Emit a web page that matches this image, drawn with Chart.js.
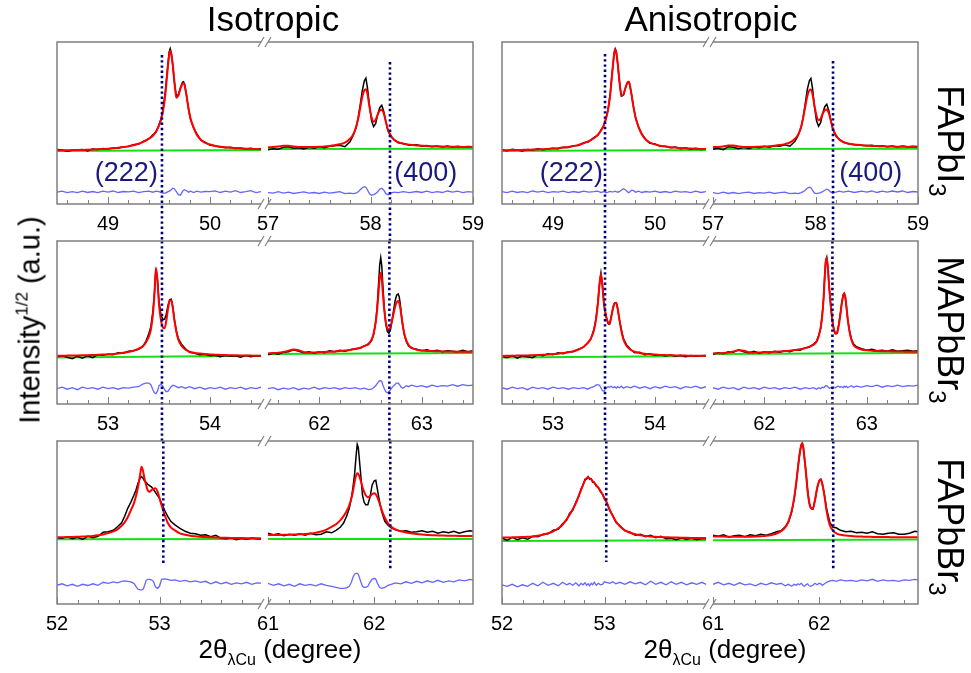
<!DOCTYPE html>
<html><head><meta charset="utf-8">
<script src="https://cdn.jsdelivr.net/npm/chart.js@4.4.1/dist/chart.umd.min.js"></script>
<style>
body{margin:0;background:#fff;width:971px;height:673px;position:relative;overflow:hidden;font-family:"Liberation Sans",Arial,sans-serif;}
canvas{position:absolute;}
.t{position:absolute;white-space:nowrap;color:#000;line-height:1;z-index:5;}
.pk{position:absolute;white-space:nowrap;color:#1a1a7e;line-height:1;font-size:27px;z-index:5;transform:translate(-50%,-50%);}
</style></head><body>
<div class="t" style="left:273px;top:1px;font-size:35px;transform:translateX(-50%)">Isotropic</div>
<div class="t" style="left:711px;top:1px;font-size:35px;transform:translateX(-50%)">Anisotropic</div>
<div class="t" style="left:29px;top:320px;font-size:29px;transform:translate(-50%,-50%) rotate(-90deg)">Intensity<span style="font-size:17px;vertical-align:12px">1/2</span> (a.u.)</div>
<div class="t" style="left:280px;top:636px;font-size:26px;transform:translateX(-50%)">2θ<span style="font-size:16px;vertical-align:-7px">λCu</span> (degree)</div>
<div class="t" style="left:725px;top:636px;font-size:26px;transform:translateX(-50%)">2θ<span style="font-size:16px;vertical-align:-7px">λCu</span> (degree)</div>
<div class="t" style="left:946px;top:141px;font-size:36px;transform:translate(-50%,-50%) rotate(90deg)">FAPbI<span style="font-size:24px;vertical-align:-9px">3</span></div>
<div class="t" style="left:946px;top:330px;font-size:36px;transform:translate(-50%,-50%) rotate(90deg)">MAPbBr<span style="font-size:24px;vertical-align:-9px">3</span></div>
<div class="t" style="left:946px;top:527px;font-size:36px;transform:translate(-50%,-50%) rotate(90deg)">FAPbBr<span style="font-size:24px;vertical-align:-9px">3</span></div>
<script>
// ---------- x grids (2θ, degree) ----------
const xTopA = [48.50,48.55,48.60,48.65,48.70,48.75,48.80,48.85,48.90,48.95,49.00,49.05,49.10,49.15,49.20,49.25,49.30,49.35,49.40,
 49.44,49.47,49.50,49.52,49.54,49.56,49.58,49.60,49.61,49.62,49.635,49.65,49.67,49.69,49.71,49.73,49.74,49.75,49.77,49.79,49.81,49.84,49.87,49.91,49.95,50.00,
 50.05,50.10,50.15,50.20,50.25,50.30,50.35,50.40,50.45,50.50];
const xTopB = [57.00,57.05,57.10,57.15,57.20,57.25,57.30,57.35,57.40,57.45,57.50,57.55,57.60,57.65,57.70,57.75,
 57.80,57.83,57.86,57.88,57.90,57.92,57.94,57.955,57.97,57.99,58.01,58.03,58.05,58.07,58.09,58.11,58.13,58.15,58.17,58.20,58.23,58.27,58.32,58.38,
 58.45,58.50,58.55,58.60,58.65,58.70,58.75,58.80,58.85,58.90,58.95,59.00];
const xMidA = [52.50,52.55,52.60,52.65,52.70,52.75,52.80,52.85,52.90,52.95,53.00,53.05,53.10,53.15,53.20,53.25,53.30,
 53.34,53.37,53.40,53.42,53.44,53.455,53.47,53.485,53.50,53.52,53.54,53.555,53.57,53.59,53.605,53.62,53.635,53.65,53.67,53.69,53.72,53.76,53.80,53.85,53.90,53.95,54.00,
 54.05,54.10,54.15,54.20,54.25,54.30,54.35,54.40,54.45,54.50];
const xMidB = [61.50,61.55,61.60,61.65,61.70,61.75,61.80,61.85,61.90,61.95,62.00,62.05,62.10,62.15,62.20,62.25,62.30,62.35,62.40,62.44,62.48,
 62.51,62.53,62.55,62.565,62.58,62.59,62.60,62.61,62.62,62.635,62.65,62.665,62.68,62.695,62.71,62.725,62.74,62.755,62.77,62.78,62.79,62.80,62.815,62.83,62.85,62.87,62.90,
 62.95,63.00,63.05,63.10,63.15,63.20,63.25,63.30,63.35,63.40,63.45,63.50];
const xBotA = [52.00,52.05,52.10,52.15,52.20,52.25,52.30,52.35,52.40,52.45,52.50,
 52.55,52.59,52.63,52.66,52.69,52.72,52.75,52.77,52.79,52.81,52.825,52.84,52.855,52.87,52.885,52.90,52.92,52.94,52.96,52.98,53.00,53.02,53.05,53.08,53.11,53.15,53.20,53.25,53.30,53.35,53.40,53.45,
 53.50,53.55,53.60,53.65,53.70,53.75,53.80,53.85,53.90,53.95,54.00];
const xBotB = [61.00,61.05,61.10,61.15,61.20,61.25,61.30,61.35,61.40,61.45,61.50,61.55,61.60,
 61.64,61.68,61.71,61.74,61.765,61.785,61.80,61.815,61.83,61.84,61.85,61.86,61.875,61.89,61.905,61.92,61.94,61.96,61.98,62.00,62.015,62.03,62.05,62.07,62.10,62.13,62.16,62.20,
 62.25,62.30,62.35,62.40,62.45,62.50,62.55,62.60,62.65,62.70,62.75,62.80,62.85,62.90,62.93];

// ---------- Isotropic FAPbI3 ----------
const isoFAPbI3_obsA = [0.012,0.008,-0.005,0.004,0.01,0.013,-0.002,0.018,0.012,0.022,0.017,0.028,0.025,0.04,0.043,0.06,0.066,0.095,0.118,
 0.16,0.185,0.26,0.32,0.42,0.57,0.79,0.99,1.02,0.98,0.85,0.69,0.545,0.56,0.63,0.685,0.69,0.67,0.55,0.41,0.31,0.225,0.17,0.105,0.085,0.055,
 0.05,0.036,0.03,0.035,0.022,0.027,0.018,0.024,0.014,0.019];
const isoFAPbI3_fitA = [0.003,0.004,0.005,0.006,0.007,0.008,0.01,0.012,0.014,0.017,0.02,0.024,0.03,0.036,0.045,0.055,0.07,0.09,0.12,
 0.15,0.19,0.25,0.31,0.40,0.54,0.76,0.96,1.0,0.97,0.86,0.70,0.53,0.55,0.62,0.67,0.675,0.66,0.55,0.42,0.32,0.23,0.16,0.11,0.08,0.062,
 0.048,0.04,0.034,0.03,0.026,0.023,0.02,0.018,0.016,0.015];
const isoFAPbI3_resA = [-0.415,-0.405,-0.42,-0.41,-0.42,-0.405,-0.418,-0.408,-0.42,-0.405,-0.415,-0.403,-0.418,-0.408,-0.412,-0.404,-0.42,-0.41,-0.405,
 -0.415,-0.405,-0.41,-0.42,-0.425,-0.425,-0.415,-0.405,-0.40,-0.39,-0.375,-0.38,-0.41,-0.44,-0.445,-0.41,-0.395,-0.39,-0.40,-0.415,-0.405,-0.418,-0.405,-0.415,-0.408,-0.41,
 -0.402,-0.418,-0.405,-0.415,-0.40,-0.418,-0.41,-0.40,-0.42,-0.41];
const isoFAPbI3_obsB = [0.01,0.02,0.015,0.035,0.04,0.025,0.03,0.018,0.035,0.025,0.04,0.03,0.045,0.05,0.055,0.04,
 0.09,0.15,0.23,0.33,0.46,0.6,0.7,0.725,0.63,0.45,0.3,0.24,0.27,0.36,0.43,0.455,0.39,0.29,0.2,0.14,0.11,0.08,0.072,0.055,
 0.06,0.045,0.052,0.04,0.048,0.038,0.047,0.035,0.045,0.036,0.042,0.04];
const isoFAPbI3_fitB = [0.035,0.037,0.042,0.05,0.05,0.042,0.037,0.036,0.037,0.038,0.04,0.043,0.048,0.055,0.064,0.08,
 0.12,0.16,0.24,0.32,0.43,0.54,0.605,0.615,0.57,0.44,0.335,0.29,0.31,0.36,0.40,0.41,0.37,0.29,0.21,0.15,0.11,0.085,0.07,0.06,
 0.053,0.05,0.047,0.045,0.043,0.041,0.04,0.039,0.038,0.037,0.037,0.036];
const isoFAPbI3_resB = [-0.42,-0.425,-0.41,-0.425,-0.415,-0.428,-0.42,-0.412,-0.425,-0.418,-0.428,-0.415,-0.425,-0.418,-0.41,-0.43,
 -0.425,-0.43,-0.425,-0.41,-0.39,-0.37,-0.36,-0.365,-0.39,-0.43,-0.445,-0.44,-0.43,-0.41,-0.385,-0.375,-0.395,-0.43,-0.44,-0.425,-0.415,-0.42,-0.41,-0.42,
 -0.408,-0.418,-0.405,-0.42,-0.41,-0.418,-0.403,-0.415,-0.405,-0.42,-0.41,-0.415];
const isoFAPbI3_baseA = [-0.003, 0.007];
const isoFAPbI3_baseB = [0.017, 0.02];

// ---------- Anisotropic FAPbI3 ----------
const aniFAPbI3_obsA = [0.01,0.0,0.015,0.007,-0.003,0.013,0.008,0.02,0.01,0.016,0.025,0.02,0.035,0.032,0.05,0.052,0.08,0.09,0.13,
 0.155,0.205,0.255,0.33,0.41,0.56,0.78,0.98,1.017,0.99,0.86,0.7,0.545,0.555,0.625,0.685,0.69,0.67,0.56,0.435,0.33,0.23,0.17,0.11,0.075,0.068,
 0.045,0.045,0.03,0.036,0.02,0.03,0.015,0.025,0.012,0.018];
const aniFAPbI3_fitA = [0.004,0.005,0.006,0.007,0.008,0.009,0.011,0.013,0.015,0.018,0.021,0.025,0.031,0.038,0.047,0.058,0.074,0.095,0.125,
 0.16,0.2,0.26,0.32,0.41,0.55,0.77,0.97,1.015,0.985,0.87,0.71,0.55,0.56,0.63,0.68,0.69,0.675,0.56,0.43,0.33,0.235,0.165,0.112,0.082,0.063,
 0.05,0.041,0.035,0.031,0.027,0.024,0.021,0.019,0.017,0.016];
const aniFAPbI3_resA = [-0.41,-0.42,-0.405,-0.418,-0.41,-0.42,-0.403,-0.415,-0.405,-0.42,-0.41,-0.415,-0.405,-0.42,-0.408,-0.418,-0.405,-0.415,-0.41,
 -0.405,-0.418,-0.41,-0.42,-0.415,-0.408,-0.412,-0.41,-0.405,-0.41,-0.415,-0.41,-0.395,-0.38,-0.39,-0.41,-0.42,-0.415,-0.395,-0.4,-0.415,-0.405,-0.418,-0.408,-0.415,-0.405,
 -0.418,-0.408,-0.42,-0.405,-0.415,-0.41,-0.42,-0.405,-0.418,-0.41];
const aniFAPbI3_obsB = [0.015,0.025,0.01,0.04,0.035,0.02,0.035,0.02,0.04,0.03,0.045,0.035,0.05,0.045,0.06,0.045,
 0.095,0.15,0.235,0.335,0.47,0.61,0.7,0.723,0.63,0.44,0.3,0.245,0.28,0.37,0.44,0.465,0.4,0.3,0.21,0.145,0.115,0.085,0.07,0.06,
 0.055,0.05,0.055,0.045,0.05,0.04,0.048,0.038,0.047,0.04,0.045,0.042];
const aniFAPbI3_fitB = [0.035,0.038,0.043,0.052,0.052,0.043,0.038,0.037,0.038,0.039,0.041,0.044,0.049,0.056,0.066,0.082,
 0.12,0.16,0.24,0.33,0.44,0.545,0.605,0.613,0.57,0.45,0.35,0.305,0.32,0.37,0.405,0.413,0.375,0.3,0.22,0.155,0.115,0.088,0.072,0.062,
 0.055,0.051,0.048,0.046,0.044,0.042,0.041,0.04,0.039,0.038,0.038,0.037];
const aniFAPbI3_resB = [-0.42,-0.43,-0.415,-0.428,-0.418,-0.43,-0.42,-0.415,-0.428,-0.42,-0.425,-0.415,-0.428,-0.42,-0.415,-0.43,
 -0.425,-0.43,-0.42,-0.41,-0.395,-0.375,-0.365,-0.37,-0.395,-0.425,-0.43,-0.425,-0.42,-0.41,-0.395,-0.385,-0.395,-0.415,-0.42,-0.415,-0.405,-0.415,-0.405,-0.418,
 -0.405,-0.415,-0.403,-0.418,-0.405,-0.415,-0.403,-0.413,-0.403,-0.418,-0.408,-0.413];
const aniFAPbI3_baseA = [-0.003, 0.007];
const aniFAPbI3_baseB = [0.017, 0.02];

// ---------- Isotropic MAPbBr3 ----------
const isoMAPbBr3_obsA = [0.0,0.01,-0.005,-0.02,0.005,-0.015,0.01,-0.01,0.02,0.015,0.025,0.02,0.04,0.035,0.055,0.06,0.075,
 0.1,0.15,0.23,0.3,0.45,0.63,0.88,0.77,0.55,0.41,0.37,0.375,0.42,0.52,0.57,0.575,0.5,0.38,0.26,0.18,0.125,0.08,0.045,0.035,0.02,0.025,0.01,
 0.015,0.0,0.012,0.005,0.01,-0.005,0.012,0.0,0.01,0.008];
const isoMAPbBr3_fitA = [0.01,0.01,0.011,0.012,0.013,0.014,0.015,0.017,0.019,0.021,0.024,0.028,0.033,0.04,0.048,0.06,0.08,
 0.105,0.14,0.2,0.27,0.42,0.62,0.89,0.76,0.52,0.36,0.29,0.285,0.35,0.49,0.56,0.565,0.49,0.37,0.25,0.17,0.11,0.07,0.05,0.038,0.031,0.026,0.023,
 0.02,0.018,0.016,0.015,0.014,0.013,0.012,0.011,0.01,0.01];
const isoMAPbBr3_resA = [-0.32,-0.305,-0.325,-0.31,-0.33,-0.305,-0.32,-0.31,-0.325,-0.305,-0.32,-0.31,-0.325,-0.31,-0.315,-0.305,-0.30,
 -0.275,-0.265,-0.265,-0.28,-0.33,-0.36,-0.37,-0.345,-0.29,-0.275,-0.3,-0.33,-0.35,-0.345,-0.32,-0.3,-0.285,-0.29,-0.3,-0.31,-0.3,-0.315,-0.3,-0.32,-0.305,-0.325,-0.31,
 -0.32,-0.305,-0.325,-0.31,-0.32,-0.305,-0.325,-0.31,-0.32,-0.305];
const isoMAPbBr3_obsB = [0.02,0.035,0.025,0.045,0.05,0.07,0.055,0.04,0.05,0.035,0.05,0.04,0.06,0.05,0.065,0.055,0.07,0.08,0.085,0.11,0.12,
 0.16,0.22,0.34,0.5,0.75,0.92,0.99,0.91,0.72,0.48,0.32,0.25,0.235,0.27,0.36,0.46,0.56,0.615,0.627,0.6,0.53,0.43,0.31,0.22,0.15,0.11,0.085,
 0.075,0.06,0.07,0.055,0.065,0.05,0.06,0.055,0.05,0.065,0.05,0.06];
const isoMAPbBr3_fitB = [0.033,0.036,0.04,0.048,0.06,0.072,0.065,0.045,0.04,0.042,0.045,0.048,0.05,0.053,0.057,0.062,0.068,0.078,0.09,0.105,0.13,
 0.17,0.23,0.34,0.47,0.66,0.79,0.84,0.78,0.64,0.46,0.34,0.28,0.27,0.3,0.36,0.43,0.5,0.545,0.557,0.54,0.49,0.42,0.31,0.23,0.16,0.12,0.09,
 0.07,0.062,0.058,0.056,0.054,0.053,0.052,0.051,0.05,0.05,0.05,0.05];
const isoMAPbBr3_resB = [-0.32,-0.31,-0.33,-0.315,-0.325,-0.31,-0.33,-0.315,-0.325,-0.305,-0.325,-0.31,-0.32,-0.31,-0.325,-0.31,-0.32,-0.31,-0.325,-0.315,-0.33,
 -0.325,-0.31,-0.29,-0.27,-0.25,-0.24,-0.24,-0.25,-0.28,-0.32,-0.35,-0.36,-0.35,-0.33,-0.31,-0.29,-0.275,-0.265,-0.265,-0.275,-0.29,-0.305,-0.315,-0.305,-0.29,-0.3,-0.285,
 -0.3,-0.29,-0.305,-0.285,-0.3,-0.29,-0.295,-0.28,-0.295,-0.28,-0.29,-0.285];
const isoMAPbBr3_baseA = [-0.007, 0.01];
const isoMAPbBr3_baseB = [0.027, 0.037];

// ---------- Anisotropic MAPbBr3 ----------
const aniMAPbBr3_obsA = [0.005,-0.01,0.012,-0.015,0.008,0.0,-0.01,0.02,0.01,0.03,0.02,0.04,0.03,0.05,0.05,0.075,0.095,
 0.14,0.175,0.27,0.37,0.54,0.72,0.835,0.71,0.52,0.4,0.33,0.325,0.4,0.5,0.54,0.54,0.47,0.375,0.27,0.18,0.12,0.075,0.04,0.045,0.02,0.03,0.015,
 0.02,0.008,0.018,0.005,0.015,0.0,0.012,0.005,0.01,0.012];
const aniMAPbBr3_fitA = [0.008,0.009,0.01,0.011,0.012,0.013,0.015,0.017,0.019,0.022,0.026,0.03,0.036,0.045,0.056,0.072,0.1,
 0.135,0.18,0.26,0.36,0.53,0.71,0.83,0.7,0.53,0.41,0.34,0.33,0.39,0.49,0.535,0.54,0.48,0.38,0.26,0.175,0.11,0.07,0.05,0.038,0.03,0.025,0.021,
 0.018,0.016,0.014,0.013,0.012,0.011,0.01,0.01,0.009,0.009];
const aniMAPbBr3_resA = [-0.31,-0.325,-0.305,-0.32,-0.31,-0.33,-0.305,-0.32,-0.31,-0.325,-0.305,-0.32,-0.31,-0.325,-0.31,-0.32,-0.31,
 -0.325,-0.31,-0.3,-0.285,-0.28,-0.285,-0.31,-0.34,-0.345,-0.315,-0.3,-0.305,-0.295,-0.31,-0.3,-0.315,-0.3,-0.31,-0.295,-0.315,-0.3,-0.31,-0.295,-0.315,-0.3,-0.32,-0.3,
 -0.315,-0.295,-0.31,-0.3,-0.32,-0.3,-0.31,-0.295,-0.315,-0.3];
const aniMAPbBr3_obsB = [0.025,0.04,0.03,0.05,0.045,0.07,0.05,0.04,0.055,0.035,0.05,0.04,0.055,0.045,0.06,0.05,0.07,0.065,0.09,0.095,0.125,
 0.155,0.21,0.28,0.41,0.6,0.81,0.96,0.993,0.9,0.67,0.49,0.35,0.27,0.23,0.24,0.31,0.41,0.53,0.62,0.635,0.6,0.51,0.37,0.27,0.18,0.13,0.1,
 0.08,0.065,0.075,0.06,0.065,0.055,0.07,0.055,0.06,0.065,0.055,0.06];
const aniMAPbBr3_fitB = [0.033,0.035,0.038,0.043,0.052,0.065,0.06,0.045,0.04,0.042,0.044,0.046,0.049,0.052,0.056,0.06,0.066,0.075,0.086,0.1,0.12,
 0.15,0.2,0.29,0.4,0.6,0.8,0.95,0.99,0.9,0.68,0.5,0.36,0.27,0.23,0.235,0.3,0.4,0.52,0.61,0.633,0.6,0.52,0.37,0.26,0.17,0.12,0.09,
 0.072,0.064,0.06,0.057,0.055,0.054,0.053,0.052,0.051,0.05,0.05,0.05];
const aniMAPbBr3_resB = [-0.31,-0.325,-0.305,-0.32,-0.31,-0.33,-0.305,-0.32,-0.31,-0.325,-0.305,-0.32,-0.31,-0.325,-0.31,-0.32,-0.305,-0.325,-0.31,-0.32,-0.31,
 -0.325,-0.31,-0.32,-0.305,-0.31,-0.3,-0.29,-0.29,-0.3,-0.315,-0.31,-0.32,-0.305,-0.31,-0.3,-0.295,-0.305,-0.3,-0.31,-0.295,-0.305,-0.295,-0.31,-0.3,-0.29,-0.305,-0.295,
 -0.305,-0.29,-0.3,-0.285,-0.305,-0.29,-0.3,-0.285,-0.3,-0.29,-0.295,-0.285];
const aniMAPbBr3_baseA = [-0.007, 0.007];
const aniMAPbBr3_baseB = [0.027, 0.037];

// ---------- Isotropic FAPbBr3 ----------
const isoFAPbBr3_obsA = [0.015,0.01,0.025,0.005,0.02,0.0,0.03,0.015,0.03,0.07,0.075,
 0.09,0.125,0.165,0.23,0.31,0.37,0.44,0.49,0.56,0.61,0.627,0.61,0.58,0.57,0.55,0.54,0.525,0.5,0.47,0.44,0.41,0.36,0.29,0.23,0.18,0.145,0.11,0.08,0.06,0.055,0.04,0.045,
 0.025,0.04,0.01,0.005,0.015,-0.005,0.01,0.0,0.012,0.005,0.003];
const isoFAPbBr3_fitA = [0.02,0.021,0.022,0.023,0.025,0.027,0.03,0.034,0.04,0.048,0.062,
 0.08,0.1,0.135,0.17,0.22,0.29,0.36,0.43,0.52,0.64,0.725,0.68,0.6,0.54,0.49,0.475,0.49,0.505,0.51,0.48,0.41,0.34,0.245,0.165,0.12,0.09,0.06,0.045,0.035,0.03,0.025,0.022,
 0.02,0.018,0.016,0.015,0.014,0.013,0.012,0.011,0.01,0.01,0.01];
const isoFAPbBr3_resA = [-0.46,-0.445,-0.465,-0.45,-0.47,-0.45,-0.462,-0.445,-0.46,-0.43,-0.44,
 -0.425,-0.435,-0.42,-0.415,-0.42,-0.425,-0.44,-0.47,-0.5,-0.505,-0.505,-0.5,-0.46,-0.41,-0.4,-0.4,-0.405,-0.42,-0.475,-0.49,-0.47,-0.4,-0.395,-0.4,-0.41,-0.405,-0.42,-0.41,-0.425,-0.415,-0.43,-0.42,
 -0.445,-0.425,-0.445,-0.43,-0.45,-0.435,-0.445,-0.43,-0.45,-0.435,-0.44];
const isoFAPbBr3_obsB = [0.06,0.045,0.055,0.035,0.05,0.04,0.055,0.04,0.06,0.045,0.05,0.075,0.065,
 0.09,0.12,0.16,0.23,0.31,0.41,0.52,0.65,0.84,0.95,0.92,0.8,0.62,0.44,0.37,0.345,0.345,0.42,0.54,0.585,0.59,0.5,0.38,0.28,0.18,0.14,0.115,0.095,
 0.08,0.085,0.07,0.075,0.085,0.07,0.08,0.06,0.075,0.065,0.08,0.06,0.075,0.085,0.08];
const isoFAPbBr3_fitB = [0.043,0.043,0.044,0.045,0.046,0.048,0.05,0.053,0.058,0.066,0.078,0.097,0.125,
 0.15,0.19,0.23,0.28,0.34,0.41,0.48,0.57,0.64,0.66,0.655,0.63,0.58,0.52,0.475,0.44,0.42,0.43,0.45,0.46,0.45,0.42,0.36,0.295,0.215,0.16,0.125,0.1,
 0.08,0.068,0.06,0.053,0.048,0.044,0.041,0.039,0.037,0.036,0.035,0.034,0.034,0.033,0.033];
const isoFAPbBr3_resB = [-0.44,-0.46,-0.445,-0.465,-0.45,-0.47,-0.445,-0.46,-0.45,-0.465,-0.445,-0.46,-0.47,
 -0.48,-0.49,-0.49,-0.485,-0.47,-0.43,-0.38,-0.35,-0.34,-0.34,-0.35,-0.38,-0.43,-0.47,-0.48,-0.48,-0.47,-0.43,-0.4,-0.39,-0.4,-0.44,-0.48,-0.49,-0.48,-0.46,-0.45,-0.435,
 -0.445,-0.425,-0.44,-0.42,-0.435,-0.415,-0.43,-0.41,-0.43,-0.415,-0.425,-0.405,-0.415,-0.4,-0.405];
const isoFAPbBr3_baseA = [0.0, 0.003];
const isoFAPbBr3_baseB = [0.003, 0.003];

// ---------- Anisotropic FAPbBr3 ----------
const aniFAPbBr3_obsA = [0.01,-0.01,0.02,-0.005,0.015,0.0,0.03,0.025,0.05,0.055,0.09,
 0.1,0.155,0.19,0.26,0.29,0.37,0.43,0.5,0.54,0.6,0.6,0.625,0.6,0.605,0.57,0.57,0.53,0.52,0.475,0.455,0.4,0.375,0.29,0.24,0.17,0.135,0.085,0.07,0.04,0.05,0.025,0.04,
 0.015,0.03,0.005,0.01,-0.005,0.012,0.0,0.01,-0.005,0.008,0.005];
const aniFAPbBr3_fitA = [0.017,0.018,0.019,0.02,0.022,0.025,0.029,0.035,0.045,0.06,0.08,
 0.11,0.145,0.2,0.245,0.3,0.36,0.44,0.49,0.545,0.59,0.612,0.62,0.61,0.6,0.58,0.565,0.54,0.515,0.485,0.45,0.41,0.37,0.3,0.235,0.18,0.13,0.09,0.065,0.05,0.04,0.033,0.028,
 0.025,0.022,0.02,0.018,0.017,0.016,0.015,0.014,0.013,0.012,0.012];
const aniFAPbBr3_resA = [-0.455,-0.47,-0.45,-0.475,-0.455,-0.47,-0.44,-0.465,-0.43,-0.46,-0.44,
 -0.465,-0.43,-0.455,-0.44,-0.46,-0.435,-0.465,-0.44,-0.455,-0.435,-0.46,-0.445,-0.465,-0.44,-0.455,-0.43,-0.46,-0.44,-0.455,-0.45,-0.425,-0.43,-0.44,-0.425,-0.445,-0.43,-0.45,-0.425,-0.445,-0.43,-0.455,-0.42,
 -0.45,-0.43,-0.455,-0.425,-0.45,-0.43,-0.455,-0.435,-0.45,-0.43,-0.455];
const aniFAPbBr3_obsB = [0.04,0.03,0.045,0.02,0.035,0.04,0.025,0.045,0.035,0.05,0.04,0.055,0.075,
 0.085,0.125,0.17,0.27,0.41,0.57,0.72,0.85,0.94,0.96,0.92,0.83,0.67,0.5,0.37,0.31,0.3,0.39,0.51,0.585,0.6,0.55,0.44,0.3,0.17,0.12,0.115,0.09,
 0.075,0.08,0.065,0.07,0.06,0.075,0.055,0.05,0.06,0.065,0.05,0.05,0.06,0.08,0.075];
const aniFAPbBr3_fitB = [0.027,0.027,0.027,0.026,0.026,0.025,0.025,0.026,0.028,0.031,0.035,0.043,0.058,
 0.08,0.12,0.18,0.28,0.42,0.58,0.72,0.85,0.94,0.96,0.92,0.82,0.67,0.49,0.37,0.315,0.305,0.39,0.51,0.585,0.6,0.55,0.43,0.28,0.14,0.085,0.06,0.045,
 0.037,0.032,0.029,0.027,0.025,0.024,0.023,0.022,0.022,0.021,0.021,0.02,0.02,0.02,0.02];
const aniFAPbBr3_resB = [-0.45,-0.43,-0.455,-0.44,-0.46,-0.435,-0.455,-0.445,-0.465,-0.44,-0.455,-0.435,-0.45,
 -0.44,-0.465,-0.45,-0.47,-0.45,-0.46,-0.445,-0.455,-0.44,-0.45,-0.465,-0.47,-0.455,-0.445,-0.465,-0.47,-0.46,-0.44,-0.455,-0.44,-0.445,-0.46,-0.445,-0.43,-0.415,-0.41,-0.42,-0.405,
 -0.415,-0.41,-0.42,-0.405,-0.415,-0.4,-0.42,-0.405,-0.415,-0.41,-0.42,-0.405,-0.41,-0.4,-0.405];
const aniFAPbBr3_baseA = [-0.017, -0.01];
const aniFAPbBr3_baseB = [-0.01, -0.003];

// ---------- axis ranges, tick labels, reference lines, labels ----------
const rowRangesA = [[48.5, 50.5], [52.5, 54.5], [52.0, 53.99]];
const rowRangesB = [[57.0, 59.0], [61.5, 63.5], [61.0, 62.93]];
const majorTicksA = [[49, 50], [53, 54], [52, 53]];
const majorTicksB = [[57, 58, 59], [62, 63], [61, 62]];
const minorStep = 0.2;
const rowYRange = [[-0.533, 1.087], [-0.473, 1.157], [-0.647, 0.983]];
const line222 = [[49.529, 53.529, 53.037], [49.51, 53.51, 53.017]];   // per column, per row
const line400 = [[58.19, 62.684, 62.151], [58.171, 62.665, 62.132]];
const line222Ends = [[0.957, -0.237], [0.967, -0.227]];
const line400Ends = [[0.887, -0.317], [0.897, -0.297]];
const peakLabels = ['(222)', '(400)'];
const peakLabelX = [49.18, 58.54];
const peakLabelY = -0.213;

// ---------- layout (pixels) ----------
const colLeft = [57, 502];
const segOffset = [0, 211], segWidth = [204, 205];
const rowTop = [42, 241, 441], rowH = [162, 163, 163], rowAxisH = [37, 37, 34];
const PAD = {l: 12, r: 12, t: 8};

const decor = {
  id: 'decor',
  afterDraw(chart) {
    const {ctx, chartArea: a} = chart;
    const xs = chart.scales.x, ys = chart.scales.y;
    const s = chart.options.plugins.decor;
    ctx.save();
    if (s.vline) {
      const px = xs.getPixelForValue(s.vline.x);
      const y0 = s.vline.y0 == null ? a.top : ys.getPixelForValue(s.vline.y0);
      const y1 = s.vline.y1 == null ? chart.height : ys.getPixelForValue(s.vline.y1);
      ctx.strokeStyle = '#00007a'; ctx.lineWidth = 2.6; ctx.setLineDash([2.4, 2.8]);
      ctx.beginPath(); ctx.moveTo(px, y0); ctx.lineTo(px, y1); ctx.stroke();
      ctx.setLineDash([]);
    }
    ctx.strokeStyle = '#7f7f7f'; ctx.lineWidth = 1.5;
    ctx.beginPath();
    ctx.moveTo(a.left, a.top); ctx.lineTo(a.right, a.top);
    ctx.moveTo(a.left, a.bottom); ctx.lineTo(a.right, a.bottom);
    if (s.side === 'L') { ctx.moveTo(a.left, a.top - 0.75); ctx.lineTo(a.left, a.bottom + 0.75); }
    else { ctx.moveTo(a.right, a.top - 0.75); ctx.lineTo(a.right, a.bottom + 0.75); }
    ctx.stroke();
    const bx = s.side === 'L' ? a.right : a.left;
    ctx.lineWidth = 1.2;
    ctx.beginPath();
    for (const yy of [a.top, a.bottom]) { ctx.moveTo(bx - 3, yy + 5); ctx.lineTo(bx + 3, yy - 5); }
    ctx.stroke();
    ctx.lineWidth = 1;
    ctx.beginPath();
    xs.ticks.forEach(t => {
      const px = Math.round(xs.getPixelForValue(t.value)) + 0.5;
      const major = s.majors.includes(Math.round(t.value * 10) / 10);
      ctx.moveTo(px, a.bottom); ctx.lineTo(px, a.bottom - (major ? 7 : 4));
    });
    ctx.stroke();
    ctx.restore();
  }
};

function makeSeg(p) {
  const cv = document.createElement('canvas');
  const W = p.w + PAD.l + PAD.r, H = PAD.t + p.h + p.axisH;
  cv.width = W; cv.height = H;
  const L = p.left - PAD.l, T = p.top - PAD.t;
  cv.style.left = L + 'px'; cv.style.top = T + 'px';
  cv.style.width = W + 'px'; cv.style.height = H + 'px';
  document.body.appendChild(cv);
  const n = (arr) => Math.min(p.x.length, arr.length);
  const pts = arr => { const o = []; for (let i = 0; i < n(arr); i++) o.push({x: p.x[i], y: arr[i]}); return o; };
  const chart = new Chart(cv, {
    type: 'line',
    data: {datasets: [
      {data: pts(p.fit), borderColor: '#ff0000', borderWidth: 2, cubicInterpolationMode: 'monotone'},
      {data: pts(p.obs), borderColor: '#000000', borderWidth: 1.5},
      {data: [{x: p.xmin, y: p.base[0]}, {x: p.xmax, y: p.base[1]}], borderColor: '#14e014', borderWidth: 2},
      {data: pts(p.res), borderColor: '#6666ff', borderWidth: 1.3}
    ]},
    options: {
      responsive: false, animation: false, devicePixelRatio: 1, events: [],
      layout: {padding: {left: PAD.l, right: PAD.r, top: PAD.t, bottom: 0}},
      elements: {point: {radius: 0}, line: {tension: 0, fill: false}},
      plugins: {legend: {display: false}, tooltip: {enabled: false}, decor: {side: p.side, vline: p.vline, majors: p.majors}},
      scales: {
        x: {type: 'linear', min: p.xmin, max: p.xmax, position: 'bottom',
            grid: {display: false}, border: {display: false},
            afterFit: s => { s.height = p.axisH; },
            afterBuildTicks: s => {
              const t = [];
              for (let k = Math.ceil(p.xmin / minorStep - 1e-6); k * minorStep <= p.xmax + 1e-6; k++) {
                t.push({value: Math.round(k * minorStep * 10) / 10});
              }
              s.ticks = t;
            },
            ticks: {autoSkip: false, maxRotation: 0, minRotation: 0, padding: 0, color: '#000',
                    font: {family: "'Liberation Sans', Arial, sans-serif", size: 20},
                    callback: v => p.majors.includes(Math.round(v * 10) / 10) ? String(Math.round(v)) : ''}},
        y: {type: 'linear', display: false, min: p.ymin, max: p.ymax}
      }
    },
    plugins: [decor]
  });
  chart._L = L; chart._T = T;
  return chart;
}

const panels = [
  [ {A: [isoFAPbI3_obsA, isoFAPbI3_fitA, isoFAPbI3_resA, isoFAPbI3_baseA], B: [isoFAPbI3_obsB, isoFAPbI3_fitB, isoFAPbI3_resB, isoFAPbI3_baseB]},
    {A: [aniFAPbI3_obsA, aniFAPbI3_fitA, aniFAPbI3_resA, aniFAPbI3_baseA], B: [aniFAPbI3_obsB, aniFAPbI3_fitB, aniFAPbI3_resB, aniFAPbI3_baseB]} ],
  [ {A: [isoMAPbBr3_obsA, isoMAPbBr3_fitA, isoMAPbBr3_resA, isoMAPbBr3_baseA], B: [isoMAPbBr3_obsB, isoMAPbBr3_fitB, isoMAPbBr3_resB, isoMAPbBr3_baseB]},
    {A: [aniMAPbBr3_obsA, aniMAPbBr3_fitA, aniMAPbBr3_resA, aniMAPbBr3_baseA], B: [aniMAPbBr3_obsB, aniMAPbBr3_fitB, aniMAPbBr3_resB, aniMAPbBr3_baseB]} ],
  [ {A: [isoFAPbBr3_obsA, isoFAPbBr3_fitA, isoFAPbBr3_resA, isoFAPbBr3_baseA], B: [isoFAPbBr3_obsB, isoFAPbBr3_fitB, isoFAPbBr3_resB, isoFAPbBr3_baseB]},
    {A: [aniFAPbBr3_obsA, aniFAPbBr3_fitA, aniFAPbBr3_resA, aniFAPbBr3_baseA], B: [aniFAPbBr3_obsB, aniFAPbBr3_fitB, aniFAPbBr3_resB, aniFAPbBr3_baseB]} ]
];
const xGridsA = [xTopA, xMidA, xBotA], xGridsB = [xTopB, xMidB, xBotB];

for (let r = 0; r < 3; r++) {
  for (let c = 0; c < 2; c++) {
    for (let s = 0; s < 2; s++) {
      const d = s === 0 ? panels[r][c].A : panels[r][c].B;
      const rng = s === 0 ? rowRangesA[r] : rowRangesB[r];
      const lineX = s === 0 ? line222[c][r] : line400[c][r];
      const ends = s === 0 ? line222Ends[c] : line400Ends[c];
      const ch = makeSeg({
        left: colLeft[c] + segOffset[s], top: rowTop[r], w: segWidth[s], h: rowH[r], axisH: rowAxisH[r],
        xmin: rng[0], xmax: rng[1], ymin: rowYRange[r][0], ymax: rowYRange[r][1],
        majors: s === 0 ? majorTicksA[r] : majorTicksB[r],
        x: s === 0 ? xGridsA[r] : xGridsB[r], obs: d[0], fit: d[1], res: d[2], base: d[3],
        side: s === 0 ? 'L' : 'R',
        vline: {x: lineX, y0: r === 0 ? ends[0] : null, y1: r === 2 ? ends[1] : null}
      });
      if (r === 0) {
        const el = document.createElement('div');
        el.className = 'pk';
        el.textContent = peakLabels[s];
        el.style.left = (ch._L + ch.scales.x.getPixelForValue(peakLabelX[s])) + 'px';
        el.style.top = (ch._T + ch.scales.y.getPixelForValue(peakLabelY)) + 'px';
        document.body.appendChild(el);
      }
    }
  }
}
</script>
</body></html>
